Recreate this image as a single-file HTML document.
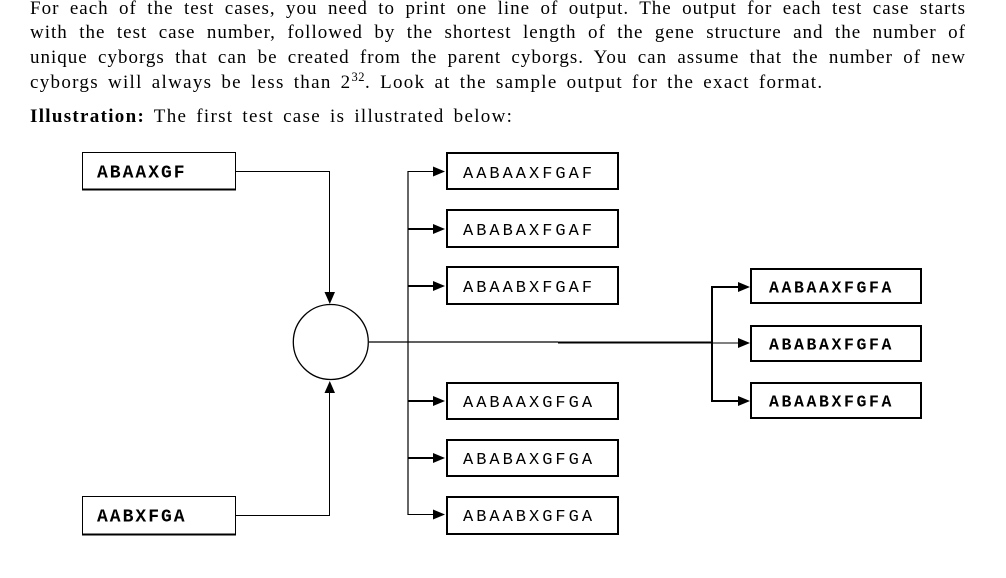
<!DOCTYPE html>
<html>
<head>
<meta charset="utf-8">
<style>
  html, body { margin:0; padding:0; background:#fff; width:1006px; height:578px; overflow:hidden; }
  body { position:relative; }
  .p { position:absolute; left:30px; width:936px; font-family:"Liberation Serif", serif; font-size:19px; line-height:24.7px; color:#000; white-space:nowrap; }
  .just { text-align:justify; text-align-last:justify; letter-spacing:1.0px; }
  .nat { letter-spacing:1.3px; word-spacing:3px; }
  .sup { font-size:12.5px; vertical-align:7px; line-height:0; letter-spacing:0.5px; }
  svg { position:absolute; left:0; top:0; }
  .bx { font-family:"Liberation Mono", monospace; }
</style>
</head>
<body>
<div class="p just" style="top:-3.5px;">For each of the test cases, you need to print one line of output. The output for each test case starts</div>
<div class="p just" style="top:21.2px;">with the test case number, followed by the shortest length of the gene structure and the number of</div>
<div class="p just" style="top:45.9px;">unique cyborgs that can be created from the parent cyborgs. You can assume that the number of new</div>
<div class="p nat" style="top:70.6px;">cyborgs will always be less than 2<span class="sup">32</span>. Look at the sample output for the exact format.</div>
<div class="p nat" style="top:104.5px;"><b>Illustration:</b> The first test case is illustrated below:</div>
<div class="p" style="top:575px; font-size:21px; font-weight:bold; letter-spacing:1px;">Sample Input</div>

<svg width="1006" height="578" viewBox="0 0 1006 578">
  <g fill="none" stroke="#000">
    <!-- left boxes -->
    <rect x="82.5" y="152.5" width="153" height="37" stroke-width="1"/>
    <line x1="82" y1="189.5" x2="236" y2="189.5" stroke-width="2"/>
    <rect x="82.5" y="496.5" width="153" height="38" stroke-width="1"/>
    <line x1="82" y1="534.5" x2="236" y2="534.5" stroke-width="2"/>
    <!-- middle boxes -->
    <rect x="447" y="153" width="171" height="36" stroke-width="2"/>
    <rect x="447" y="210" width="171" height="37" stroke-width="2"/>
    <rect x="447" y="267" width="171" height="37" stroke-width="2"/>
    <rect x="447" y="383" width="171" height="36" stroke-width="2"/>
    <rect x="447" y="440" width="171" height="36" stroke-width="2"/>
    <rect x="447" y="497" width="171" height="37" stroke-width="2"/>
    <!-- right boxes -->
    <rect x="751" y="269" width="170" height="34" stroke-width="2"/>
    <rect x="751" y="326" width="170" height="35" stroke-width="2"/>
    <rect x="751" y="383" width="170" height="35" stroke-width="2"/>

    <!-- circle -->
    <circle cx="330.8" cy="342" r="37.5" stroke-width="1.3"/>

    <!-- left connectors -->
    <polyline points="236,171.5 329.5,171.5 329.5,293" stroke-width="1"/>
    <polyline points="236,515.5 329.5,515.5 329.5,392" stroke-width="1"/>

    <!-- main line -->
    <line x1="369" y1="342" x2="558" y2="342" stroke-width="1.3"/>
    <line x1="558" y1="342.5" x2="712" y2="342.5" stroke-width="2"/>

    <!-- left trunk -->
    <line x1="408" y1="171" x2="408" y2="515" stroke-width="1.2"/>
    <line x1="408" y1="171.5" x2="436" y2="171.5" stroke-width="1"/>
    <line x1="408" y1="229" x2="436" y2="229" stroke-width="2"/>
    <line x1="408" y1="286" x2="436" y2="286" stroke-width="2"/>
    <line x1="408" y1="401" x2="436" y2="401" stroke-width="2"/>
    <line x1="408" y1="458" x2="436" y2="458" stroke-width="2"/>
    <line x1="408" y1="514.5" x2="436" y2="514.5" stroke-width="1"/>

    <!-- right trunk -->
    <line x1="712" y1="286" x2="712" y2="402" stroke-width="2"/>
    <line x1="711" y1="287" x2="740" y2="287" stroke-width="2"/>
    <line x1="712" y1="343" x2="740" y2="343" stroke-width="1"/>
    <line x1="711" y1="401" x2="740" y2="401" stroke-width="2"/>
  </g>

  <g fill="#000" stroke="none">
    <!-- circle arrowheads -->
    <polygon points="324.5,292 335,292 329.8,304"/>
    <polygon points="324.5,393 335,393 329.8,381"/>
    <!-- middle arrowheads -->
    <polygon points="433,166.5 433,176.5 445,171.5"/>
    <polygon points="433,224 433,234 445,229"/>
    <polygon points="433,281 433,291 445,286"/>
    <polygon points="433,396 433,406 445,401"/>
    <polygon points="433,453 433,463 445,458"/>
    <polygon points="433,509.5 433,519.5 445,514.5"/>
    <!-- right arrowheads -->
    <polygon points="738,282 738,292 750,287"/>
    <polygon points="738,338 738,348 750,343"/>
    <polygon points="738,396 738,406 750,401"/>
  </g>

  <g class="bx" fill="#000">
    <text x="97" y="177.5" font-size="18" font-weight="bold" letter-spacing="2">ABAAXGF</text>
    <text x="97" y="521.5" font-size="18" font-weight="bold" letter-spacing="2">AABXFGA</text>

    <text x="463" y="178" font-size="17" letter-spacing="3">AABAAXFGAF</text>
    <text x="463" y="235" font-size="17" letter-spacing="3">ABABAXFGAF</text>
    <text x="463" y="292" font-size="17" letter-spacing="3">ABAABXFGAF</text>
    <text x="463" y="407" font-size="17" letter-spacing="3">AABAAXGFGA</text>
    <text x="463" y="464" font-size="17" letter-spacing="3">ABABAXGFGA</text>
    <text x="463" y="521" font-size="17" letter-spacing="3">ABAABXGFGA</text>

    <text x="769" y="292.5" font-size="16.5" letter-spacing="2.6" font-weight="bold">AABAAXFGFA</text>
    <text x="769" y="349.5" font-size="16.5" letter-spacing="2.6" font-weight="bold">ABABAXFGFA</text>
    <text x="769" y="406.5" font-size="16.5" letter-spacing="2.6" font-weight="bold">ABAABXFGFA</text>
  </g>
</svg>
</body>
</html>
